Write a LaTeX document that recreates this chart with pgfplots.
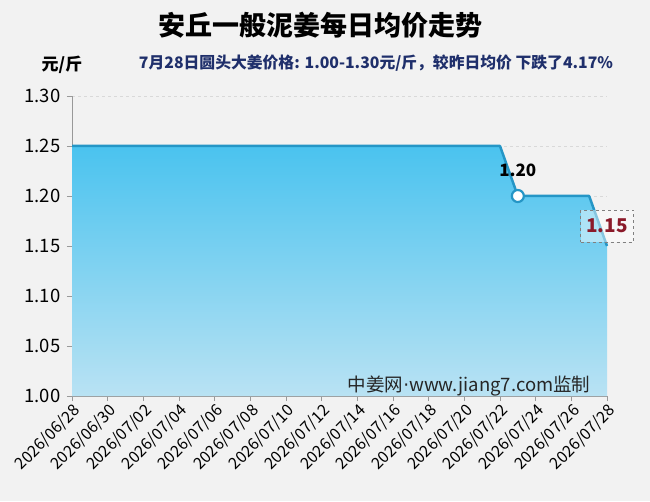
\documentclass[border=0pt]{standalone}
\usepackage{fontspec}
\setmainfont{Noto Sans CJK SC}
\newfontfamily\dotfont{DejaVu Sans}
\usepackage{pgfplots}
\pgfplotsset{compat=1.18}
\definecolor{bg}{HTML}{F2F2F2}
\definecolor{lineblue}{HTML}{2596C6}
\definecolor{filltop}{HTML}{4AC3EF}
\definecolor{fillbot}{HTML}{B9E2F3}
\definecolor{subblue}{HTML}{1F2F6B}
\definecolor{darkred}{HTML}{8B1A2A}
\definecolor{axgray}{HTML}{999999}
\begin{document}
\begin{tikzpicture}[x=1pt,y=1pt]
\fill[bg] (0,0) rectangle (650,501);
\node[font=\bfseries\fontsize{27}{31}\selectfont] at (320,476) {安丘一般泥姜每日均价走势};
\node[font=\bfseries\fontsize{17}{20}\selectfont] at (62,436) {元/斤};
\node[font=\bfseries\fontsize{15.8}{18}\selectfont, text=subblue] at (376,438) {7月28日圆头大姜价格: 1.00-1.30元/斤，较昨日均价 下跌了4.17\%};
\begin{axis}[
  at={(72pt,105pt)}, anchor=south west,
  scale only axis, width=535pt, height=300pt,
  xmin=0, xmax=30, ymin=1, ymax=1.3,
  axis x line*=bottom, axis y line*=left,
  axis line style={draw=axgray, line width=0.8pt},
  tick style={draw=axgray, line width=0.8pt},
  major tick length=5pt, tick align=outside,
  ytick={1,1.05,1.1,1.15,1.2,1.25,1.3},
  ymajorgrids, grid style={dashed, draw=black!15},
  xtick={0,2,...,30},
  xticklabels={2026/06/28,2026/06/30,2026/07/02,2026/07/04,2026/07/06,2026/07/08,2026/07/10,2026/07/12,2026/07/14,2026/07/16,2026/07/18,2026/07/20,2026/07/22,2026/07/24,2026/07/26,2026/07/28},
  xticklabel style={rotate=45, anchor=north east, inner sep=1pt, font=\fontsize{16}{18}\selectfont},
  yticklabel style={font=\fontsize{18.5}{20}\selectfont, xshift=-3pt, /pgf/number format/.cd, fixed, fixed zerofill, precision=2, assume math mode=true},
  clip=false,
]
\addplot[draw=none, top color=filltop, bottom color=fillbot] coordinates {
(0,1) (0,1.25) (1,1.25) (2,1.25) (3,1.25) (4,1.25) (5,1.25) (6,1.25) (7,1.25) (8,1.25) (9,1.25)
(10,1.25) (11,1.25) (12,1.25) (13,1.25) (14,1.25) (15,1.25) (16,1.25) (17,1.25) (18,1.25) (19,1.25)
(20,1.25) (21,1.25) (22,1.25) (23,1.25) (24,1.25) (25,1.20) (26,1.20) (27,1.20) (28,1.20) (29,1.20)
(30,1.15) (30,1)} -- cycle;
\addplot[draw=lineblue, line width=2.5pt, line join=round] coordinates {
(0,1.25) (1,1.25) (2,1.25) (3,1.25) (4,1.25) (5,1.25) (6,1.25) (7,1.25) (8,1.25) (9,1.25)
(10,1.25) (11,1.25) (12,1.25) (13,1.25) (14,1.25) (15,1.25) (16,1.25) (17,1.25) (18,1.25) (19,1.25)
(20,1.25) (21,1.25) (22,1.25) (23,1.25) (24,1.25) (25,1.20) (26,1.20) (27,1.20) (28,1.20) (29,1.20)
(30,1.15)};
\addplot[only marks, mark=*, mark size=6pt, mark options={fill=white, draw=lineblue, line width=2.2pt}] coordinates {(25,1.20)};
\node[font=\bfseries\fontsize{17}{20}\selectfont] at (axis cs:25,1.2) [yshift=26pt] {1.20};
\node[draw=gray, dashed, fill=white, fill opacity=0.45, text opacity=1, text=darkred,
  font=\bfseries\fontsize{19}{22}\selectfont, minimum width=53pt, minimum height=32pt, inner sep=1pt]
  at (axis cs:30,1.15) [yshift=20pt] {1.15};
\node[anchor=base east, font=\fontsize{18.5}{20}\selectfont, text=black!85] at (axis cs:30,1) [xshift=-13pt, yshift=5pt] {中姜网{\dotfont ·}www.jiang7.com监制};
\end{axis}
\end{tikzpicture}
\end{document}
